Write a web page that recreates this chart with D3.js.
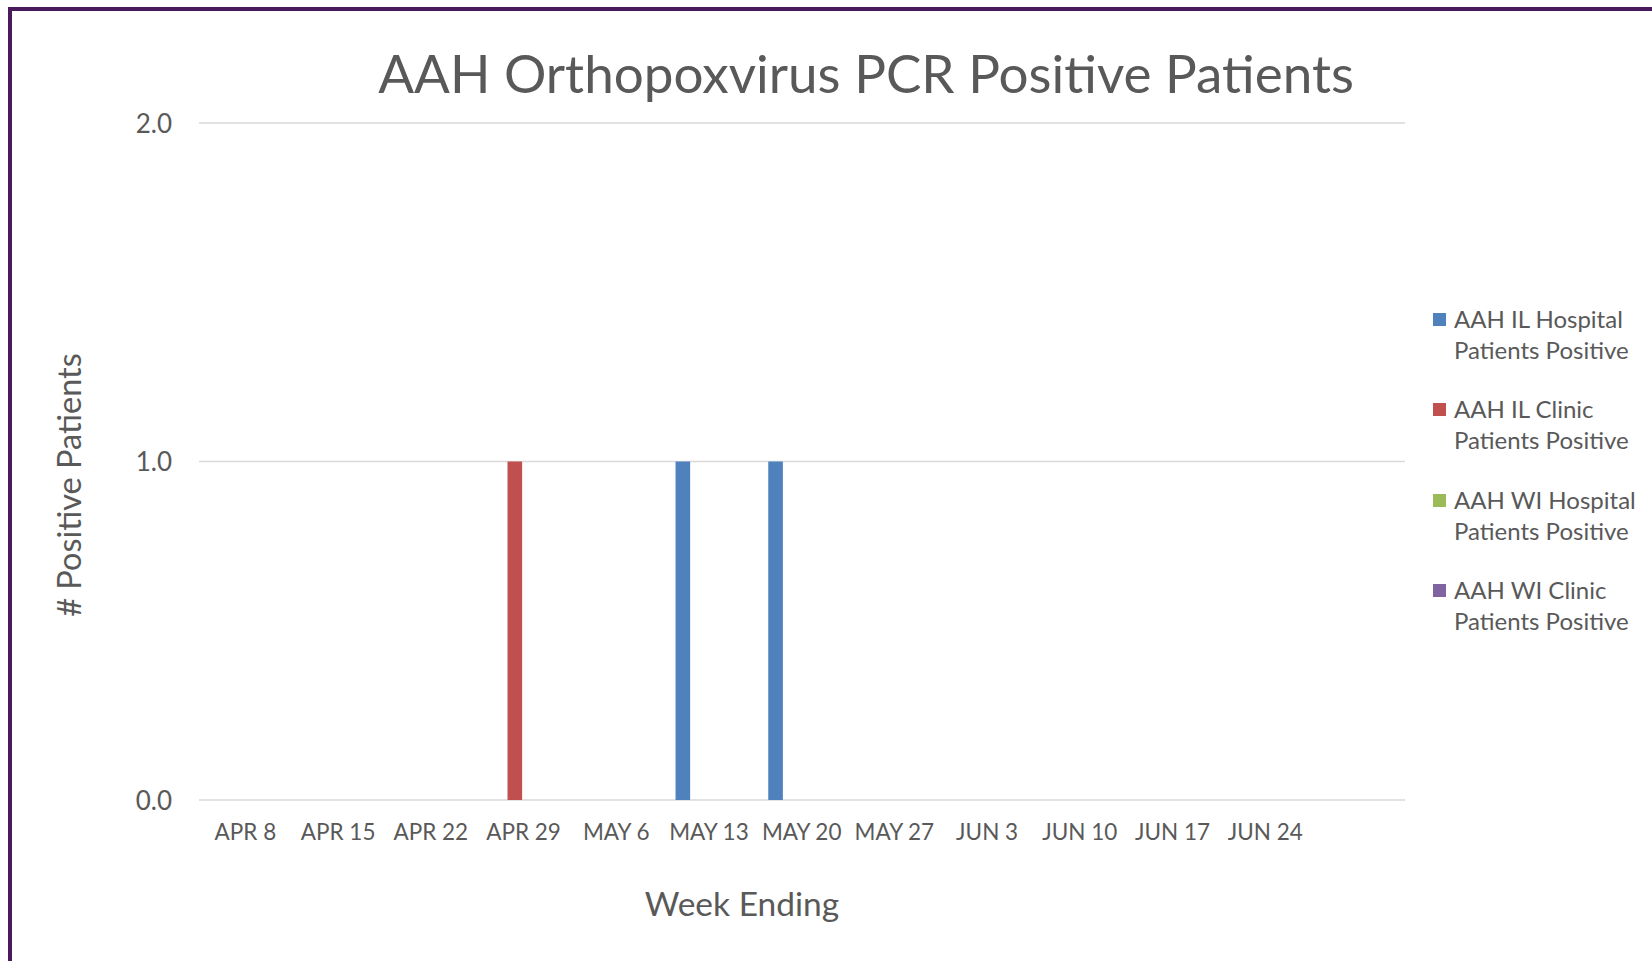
<!DOCTYPE html>
<html><head><meta charset="utf-8">
<script src="https://cdn.jsdelivr.net/npm/d3@7"></script>
<style>body{margin:0;background:#fff;} svg{display:block;}</style>
</head><body>
<script>
const categories = ["APR 8","APR 15","APR 22","APR 29","MAY 6","MAY 13","MAY 20","MAY 27","JUN 3","JUN 10","JUN 17","JUN 24"];
const seriesNames = ["AAH IL Hospital Patients Positive","AAH IL Clinic Patients Positive","AAH WI Hospital Patients Positive","AAH WI Clinic Patients Positive"];
const ilHospital = [0,0,0,0,0,1,1,0,0,0,0,0];
const ilClinic   = [0,0,0,1,0,0,0,0,0,0,0,0];
const wiHospital = [0,0,0,0,0,0,0,0,0,0,0,0];
const wiClinic   = [0,0,0,0,0,0,0,0,0,0,0,0];
const yTicks = [0,1,2];
const colors = ["#4f81bd","#c0504d","#9bbb59","#8064a2"];

const W=1652,H=961;
const font="Lato, 'Open Sans', sans-serif";
const textColor="#595959";
const svg=d3.select("body").append("svg").attr("width",W).attr("height",H);
svg.append("rect").attr("width",W).attr("height",H).attr("fill","#fff");
// frame
svg.append("path").attr("d",`M10,${H+5} L10,9 L${W+5},9`).attr("fill","none").attr("stroke","#4b1a5c").attr("stroke-width",4);

const plotL=199, plotR=1405, x0=d3.scaleBand().domain(categories).range([199,1311.6]).paddingInner(0).paddingOuter(0);
const y=d3.scaleLinear().domain([0,2]).range([800,123]);
const x1=d3.scaleBand().domain(d3.range(4)).range([x0.bandwidth()/2-33.4, x0.bandwidth()/2+33.4]).paddingInner(0.16);

// gridlines
svg.append("g").selectAll("line").data(yTicks).join("line")
  .attr("x1",plotL).attr("x2",plotR).attr("y1",d=>y(d)).attr("y2",d=>y(d))
  .attr("stroke","#d9d9d9").attr("stroke-width",1.5);

// y axis labels
const yAxis=d3.axisLeft(y).tickValues(yTicks).tickFormat(d3.format(".1f")).tickSize(0).tickPadding(0);
const gy=svg.append("g").attr("transform","translate(172,0)").call(yAxis);
gy.select(".domain").remove();
gy.selectAll("text").attr("font-family",font).attr("font-size",26).attr("fill",textColor).attr("dy","0.35em");

// x axis labels
const xAxis=d3.axisBottom(x0).tickSize(0).tickPadding(0);
const gx=svg.append("g").attr("transform","translate(0,832)").call(xAxis);
gx.select(".domain").remove();
gx.selectAll("text").attr("font-family",font).attr("font-size",22.5).attr("fill",textColor).attr("dy","0.35em");

// bars
const data=[ilHospital,ilClinic,wiHospital,wiClinic];
const g=svg.append("g");
data.forEach((vals,si)=>{
  g.append("g").selectAll("rect").data(vals.map((v,i)=>({c:categories[i],v}))).join("rect")
   .attr("x",d=>x0(d.c)+x1(si)).attr("width",x1.bandwidth())
   .attr("y",d=>y(d.v)).attr("height",d=>y(0)-y(d.v)).attr("fill",colors[si]);
});

// title
svg.append("text").attr("x",866).attr("y",93).attr("text-anchor","middle")
 .attr("font-family",font).attr("font-size",53).attr("fill",textColor).text("AAH Orthopoxvirus PCR Positive Patients");
// axis titles
svg.append("text").attr("transform","translate(81,485) rotate(-90)").attr("text-anchor","middle")
 .attr("font-family",font).attr("font-size",32.5).attr("fill",textColor).text("# Positive Patients");
svg.append("text").attr("x",742).attr("y",916).attr("text-anchor","middle")
 .attr("font-family",font).attr("font-size",33.5).attr("fill",textColor).text("Week Ending");

// legend
const leg=svg.append("g");
const legY=[320,410,501,591];
seriesNames.forEach((n,i)=>{
  const parts=[n.replace(" Patients Positive",""),"Patients Positive"];
  leg.append("rect").attr("x",1433).attr("y",legY[i]-7).attr("width",13).attr("height",13).attr("fill",colors[i]);
  const t=leg.append("text").attr("font-family",font).attr("font-size",24).attr("fill",textColor);
  parts.forEach((p,j)=>t.append("tspan").attr("x",1454).attr("y",legY[i]+j*31).attr("dy","0.35em").text(p));
});
</script>
</body></html>
